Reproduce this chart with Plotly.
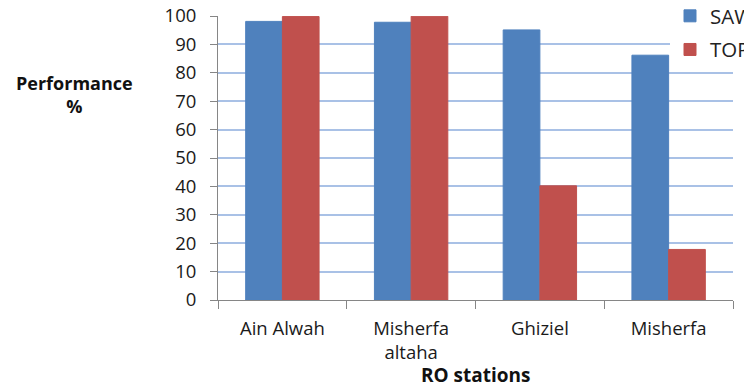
import plotly.graph_objects as go

# RO station performance by method
stations = ["Ain Alwah", "Misherfa<br>altaha", "Ghiziel", "Misherfa"]
saw = [98.1, 97.8, 95.1, 86.2]
topsis = [99.8, 99.9, 40.2, 17.8]
y_ticks = list(range(0, 101, 10))

W, H = 744, 388
L, R, T, B = 218, 11, 16, 88
PW, PH = W - L - R, H - T - B
FONT = "Open Sans"
AXIS_GREY = "#868686"

fig = go.Figure()
fig.add_trace(go.Bar(name="SAW", x=stations, y=saw, legendgroup="saw",
                     marker=dict(color="#4F81BD", line=dict(color="#4F81BD", width=1))))
fig.add_trace(go.Bar(name="TOPSIS", x=stations, y=topsis, legendgroup="topsis",
                     marker=dict(color="#C0504D", line=dict(color="#C0504D", width=1))))

fig.update_layout(
    width=W, height=H,
    margin=dict(l=L, r=R, t=T, b=B, autoexpand=False),
    paper_bgcolor="white", plot_bgcolor="white",
    barmode="group", bargap=0.43, bargroupgap=0,
    font=dict(family=FONT, color="#222222"),
    showlegend=True,
    legend=dict(
        x=(670 - L) / PW, xanchor="left",
        y=1 + 20 / PH, yanchor="top",
        bgcolor="white", borderwidth=0,
        font=dict(family=FONT, size=20.5, color="#222222"),
        traceorder="grouped", tracegroupgap=4,
    ),
    xaxis=dict(
        showline=True, linecolor=AXIS_GREY, linewidth=1,
        ticks="outside", tickson="boundaries", ticklen=8,
        tickcolor=AXIS_GREY, tickwidth=1,
        tickfont=dict(family=FONT, size=18.5, color="#1a1a1a"),
        ticklabelstandoff=12,
        showgrid=False, zeroline=False,
    ),
    yaxis=dict(
        range=[0, 100], tickvals=y_ticks,
        showline=True, linecolor=AXIS_GREY, linewidth=1,
        ticks="outside", ticklen=7, tickcolor=AXIS_GREY, tickwidth=1,
        tickfont=dict(family=FONT, size=18.5, color="#1a1a1a"),
        ticklabelstandoff=10,
        showgrid=True, gridcolor="#A9C1E6", gridwidth=1.5,
        zeroline=False,
    ),
    annotations=[
        dict(text="<b>Performance</b><br><b>%</b>", xref="paper", yref="paper",
             x=-(L - 74) / PW, y=1 - (95 - T) / PH,
             xanchor="center", yanchor="middle", showarrow=False,
             font=dict(family=FONT, size=18, color="#111111")),
        dict(text="<b>RO stations</b>", xref="paper", yref="paper",
             x=0.5, y=-(375 - (H - B)) / PH,
             xanchor="center", yanchor="middle", showarrow=False,
             font=dict(family=FONT, size=19, color="#111111")),
    ],
)

fig.write_html("out.html")
